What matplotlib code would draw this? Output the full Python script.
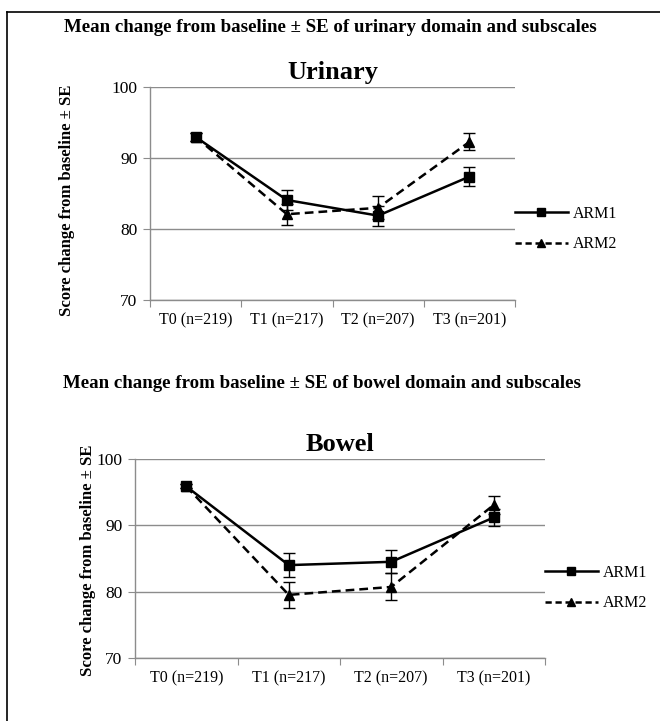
import matplotlib
matplotlib.use("Agg")
import matplotlib.pyplot as plt
from matplotlib.lines import Line2D

# Time points and sample sizes
timepoints = ["T0 (n=219)", "T1 (n=217)", "T2 (n=207)", "T3 (n=201)"]

# Urinary domain: mean score and SE per arm
urinary_arm1 = [93.0, 84.1, 81.9, 87.4]
urinary_arm1_se = [0.6, 1.4, 1.4, 1.35]
urinary_arm2 = [93.0, 82.1, 83.0, 92.3]
urinary_arm2_se = [0.6, 1.5, 1.6, 1.2]

# Bowel domain: mean score and SE per arm
bowel_arm1 = [95.9, 84.0, 84.5, 91.2]
bowel_arm1_se = [0.3, 1.8, 1.75, 1.35]
bowel_arm2 = [95.9, 79.5, 80.7, 93.1]
bowel_arm2_se = [0.3, 2.0, 2.05, 1.3]

serif = ["Liberation Serif", "DejaVu Serif"]
plt.rcParams["font.family"] = serif

W, H = 660, 721
fig = plt.figure(figsize=(W / 100, H / 100), dpi=100)

# page frame (left and top rules)
fig.add_artist(Line2D([7 / W, 7 / W], [0, 1 - 12 / H], transform=fig.transFigure,
                      color="black", lw=1.2))
fig.add_artist(Line2D([7 / W, 1], [1 - 12 / H, 1 - 12 / H], transform=fig.transFigure,
                      color="black", lw=1.2))

GRID = "#8c8c8c"


def panel(rect, title, a1, e1, a2, e2, leg_anchor):
    ax = fig.add_axes(rect)
    x = [i + 0.5 for i in range(len(timepoints))]
    ax.errorbar(x, a1, yerr=e1, color="black", lw=1.8, ls="-", marker="s",
                ms=7, capsize=4, elinewidth=1, capthick=1, label="ARM1")
    ax.errorbar(x, a2, yerr=e2, color="black", lw=1.8, ls=(0, (3.5, 2)), marker="^",
                ms=6.5, capsize=4, elinewidth=1, capthick=1, label="ARM2")
    ax.set_xlim(0, len(timepoints))
    ax.set_ylim(70, 100)
    ax.set_yticks([70, 80, 90, 100])
    ax.set_xticks(range(len(timepoints) + 1))
    ax.set_xticklabels([])
    ax.set_xticks(x, minor=True)
    ax.set_xticklabels(timepoints, minor=True)
    ax.tick_params(axis="x", which="minor", length=0, pad=9, labelsize=11.5)
    ax.tick_params(axis="x", which="major", length=5, color=GRID, direction="out")
    ax.tick_params(axis="y", length=5, color=GRID, labelsize=12.5, pad=4)
    for s in ["top", "right"]:
        ax.spines[s].set_visible(False)
    for s in ["left", "bottom"]:
        ax.spines[s].set_color(GRID)
        ax.spines[s].set_linewidth(1)
    ax.yaxis.grid(True, color=GRID, lw=1)
    ax.set_axisbelow(True)
    ax.set_title(title, fontsize=19, fontweight="bold", pad=6)
    handles = [Line2D([], [], color="black", lw=1.8, ls="-", marker="s", ms=6),
               Line2D([], [], color="black", lw=1.8, ls=(0, (2.5, 1.5)), marker="^", ms=5.5)]
    ax.legend(handles, ["ARM1", "ARM2"], loc="center left", bbox_to_anchor=leg_anchor,
              frameon=False, fontsize=11.5, handlelength=3.3, handletextpad=0.3,
              labelspacing=0.9, borderaxespad=0, borderpad=0)
    return ax


def frac(left, right, top, bottom):
    return [left / W, 1 - bottom / H, (right - left) / W, (bottom - top) / H]


ax1 = panel(frac(150, 515, 87.3, 300), "Urinary",
            urinary_arm1, urinary_arm1_se, urinary_arm2, urinary_arm2_se,
            (1.0, 0.334))
ax2 = panel(frac(135, 545, 459.3, 657.7), "Bowel",
            bowel_arm1, bowel_arm1_se, bowel_arm2, bowel_arm2_se,
            (1.0, 0.351))

fig.text(330 / W, 1 - 27 / H,
         "Mean change from baseline \u00b1 SE of urinary domain and subscales",
         ha="center", va="center", fontsize=13.6, fontweight="bold")
fig.text(322 / W, 1 - 383 / H,
         "Mean change from baseline \u00b1 SE of bowel domain and subscales",
         ha="center", va="center", fontsize=13.6, fontweight="bold")

fig.text(67 / W, 1 - 200 / H, "Score change from baseline \u00b1 SE", rotation=90,
         ha="center", va="center", fontsize=12, fontweight="bold")
fig.text(88 / W, 1 - 560 / H, "Score change from baseline \u00b1 SE", rotation=90,
         ha="center", va="center", fontsize=12, fontweight="bold")

fig.savefig("out.png", dpi=100, facecolor="white")
